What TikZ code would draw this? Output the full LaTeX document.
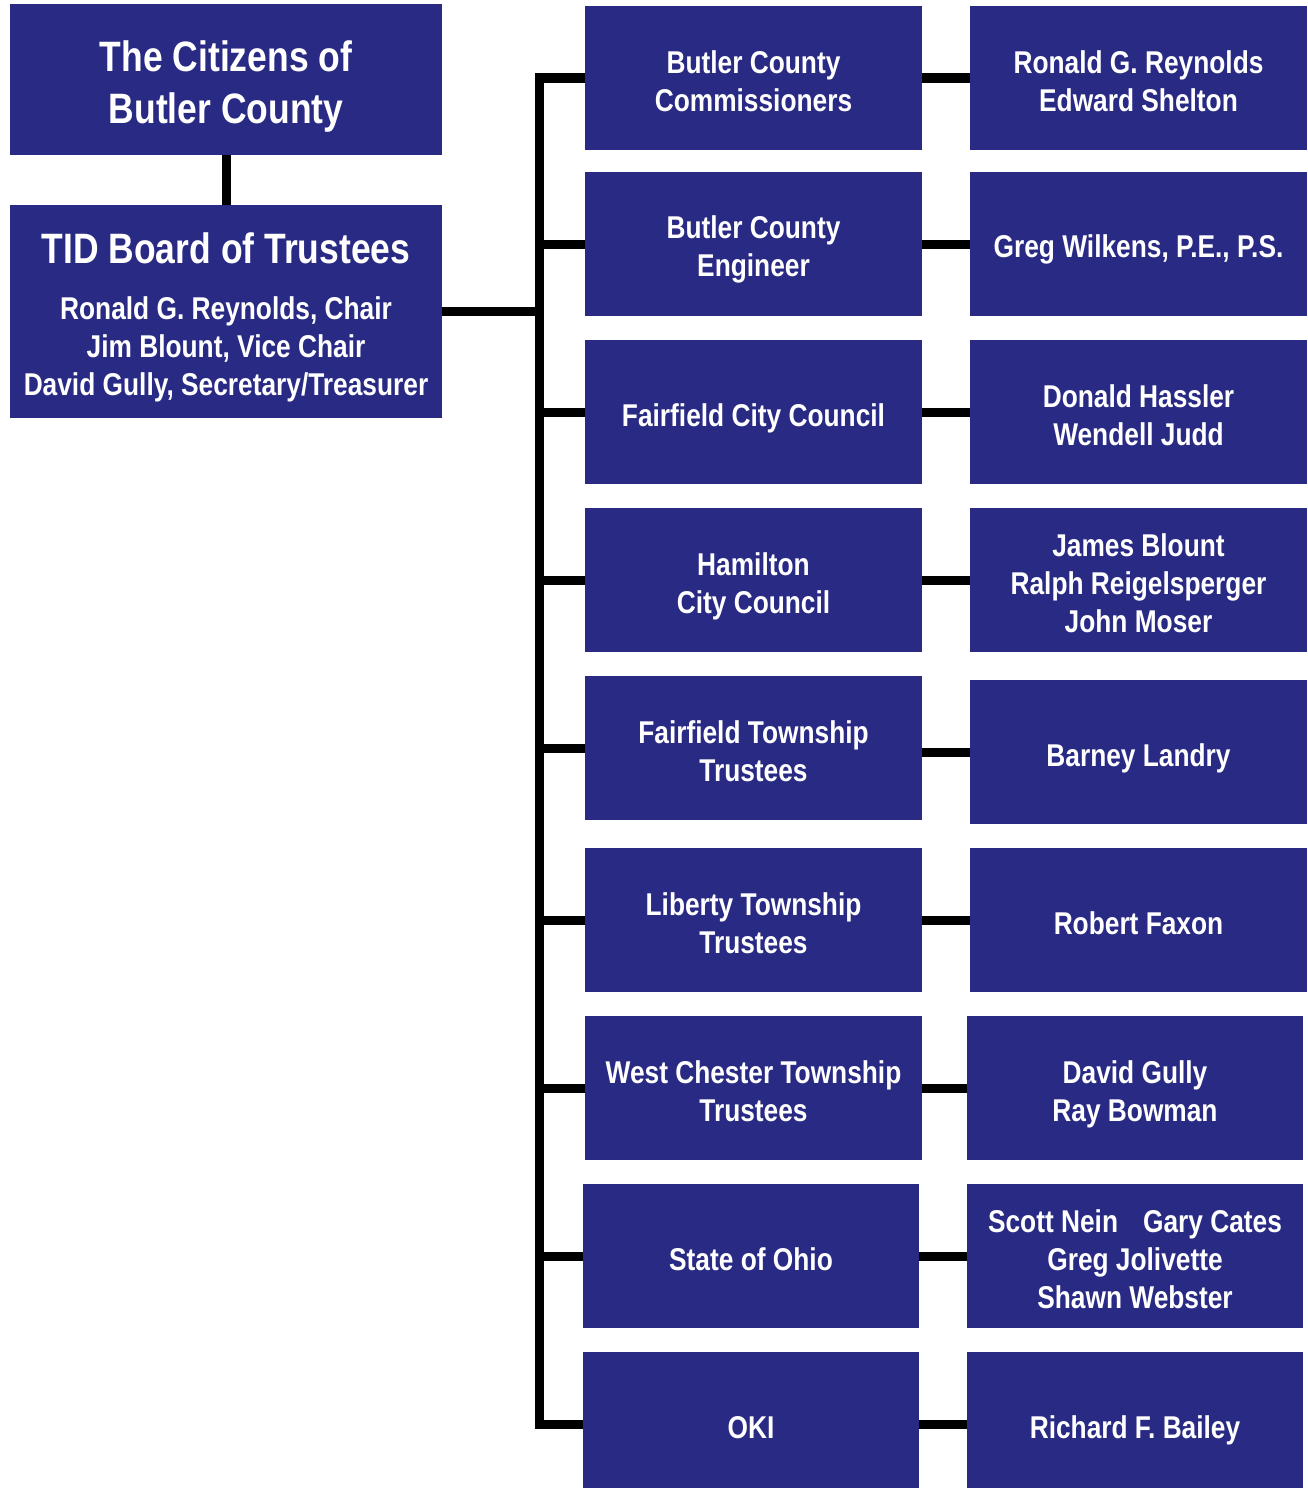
\documentclass[tikz,border=0pt]{standalone}
\usepackage{fontspec}
\setmainfont{Liberation Sans}[FakeStretch=0.835]
\usepackage{tikz}
\definecolor{tidblue}{RGB}{41,42,132}
\newcommand\linetop{\rule{0pt}{34.6pt}}
\newcommand\linebottom{\rule[-6.6pt]{0pt}{0pt}}
\newcommand\titletop{\rule{0pt}{45pt}}

\begin{document}
\begin{tikzpicture}[
    x=1pt, y=-1pt,
    box/.style={
        fill=tidblue,
        text=white,
        align=center,
        inner sep=0pt,
        font=\fontsize{31.5}{38}\selectfont\bfseries,
        execute at end node=\linebottom
    },
    unit/.style={
        box,
        minimum width=337pt,
        minimum height=144pt
    },
    narrowunit/.style={
        box,
        minimum width=336pt,
        minimum height=144pt
    },
    title/.style={
        text=white,
        align=center,
        inner sep=0pt,
        font=\fontsize{42.5}{52}\selectfont\bfseries
    },
    link/.style={
        draw,
        black,
        line width=9pt
    },
    ]
    \useasboundingbox (0,0) rectangle (1307,1488);
    % left column
    \node [title, fill=tidblue, minimum width=432pt, minimum height=150pt] (citizens) at (226,79.5)
        {\titletop The Citizens of\\Butler County};
    \node [box, minimum width=432pt, minimum height=213pt] (tid) at (226,311.5) {};
    \node [title] (tidhead) at (226,248) {TID Board of Trustees};
    \node [box, fill=none] (tidnames) at (226,349.5)
        {Ronald G. Reynolds, Chair\\Jim Blount, Vice Chair\\David Gully, Secretary/Treasurer};
    % middle column
    \node [unit] (m1) at (753.5,78) {\linetop Butler County\\Commissioners};
    \node [unit] (m2) at (753.5,244) {\linetop Butler County\\Engineer};
    \node [unit] (m3) at (753.5,412) {\linetop Fairfield City Council};
    \node [unit] (m4) at (753.5,580) {\linetop Hamilton\\City Council};
    \node [unit] (m5) at (753.5,748) {\linetop Fairfield Township\\Trustees};
    \node [unit] (m6) at (753.5,920) {\linetop Liberty Township\\Trustees};
    \node [unit] (m7) at (753.5,1088) {\linetop West Chester Township\\Trustees};
    \node [narrowunit] (m8) at (751,1256) {\linetop State of Ohio};
    \node [narrowunit] (m9) at (751,1424) {\linetop OKI};
    % right column
    \node [unit] (r1) at (1138.5,78) {\linetop Ronald G. Reynolds\\Edward Shelton};
    \node [unit] (r2) at (1138.5,244) {\linetop Greg Wilkens, P.E., P.S.};
    \node [unit] (r3) at (1138.5,412) {\linetop Donald Hassler\\Wendell Judd};
    \node [unit] (r4) at (1138.5,580) {\linetop James Blount\\Ralph Reigelsperger\\John Moser};
    \node [unit] (r5) at (1138.5,752) {\linetop Barney Landry};
    \node [unit] (r6) at (1138.5,920) {\linetop Robert Faxon};
    \node [narrowunit] (r7) at (1135,1088) {\linetop David Gully\\Ray Bowman};
    \node [narrowunit] (r8) at (1135,1256) {\linetop Scott Nein\hspace{25pt}Gary Cates\\Greg Jolivette\\Shawn Webster};
    \node [narrowunit] (r9) at (1135,1424) {\linetop Richard F. Bailey};
    % connectors
    \coordinate (spine) at (539,0);
    \draw [link] (citizens.south) -- (tid.north);
    \draw [link] (tid.east) -- (tid.east -| spine);
    \draw [link] (m1.west) -- (m1.west -| spine) -- (m9.west -| spine) -- (m9.west);
    \foreach \i in {2,...,8}
        \draw [link] (m\i.west) -- (m\i.west -| spine);
    \foreach \i in {1,...,9}
        \draw [link] (r\i.west -| m\i.east) -- (r\i.west);
\end{tikzpicture}
\end{document}
